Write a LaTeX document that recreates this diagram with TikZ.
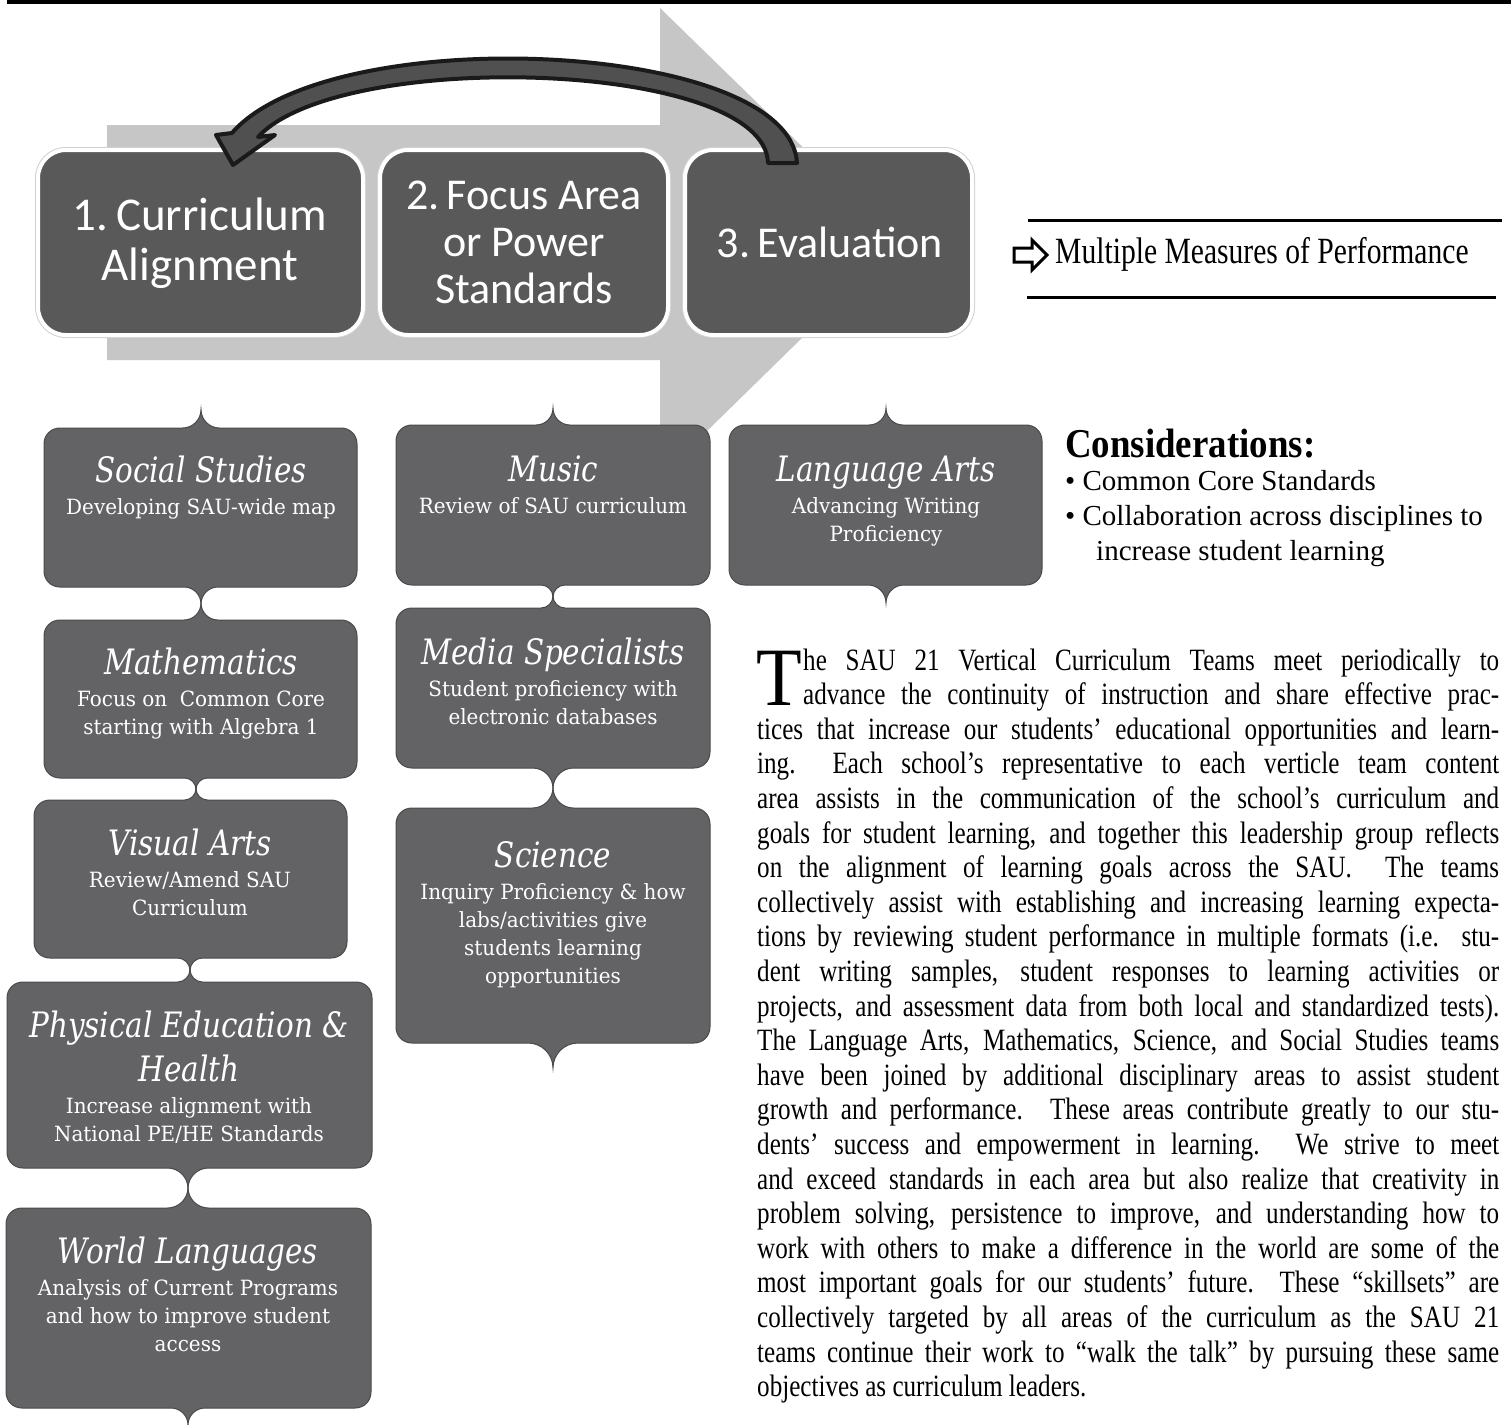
\documentclass[tikz,border=0pt]{standalone}
\usepackage{fontspec}
\setmainfont{Liberation Serif}
\newfontfamily\calib{Carlito}
\newfontfamily\camT[FakeStretch=0.84]{DejaVu Serif}
\newfontfamily\camS[FakeStretch=0.95]{DejaVu Serif}
\newfontfamily\tnrP[FakeStretch=0.81]{Liberation Serif}
\newfontfamily\tnrM[FakeStretch=0.8]{Liberation Serif}
\newfontfamily\tnrC[FakeStretch=0.9]{Liberation Serif}
\newfontfamily\tnrB[FakeStretch=1.0]{Liberation Serif}
\definecolor{arrowgray}{HTML}{C6C6C6}
\definecolor{topboxc}{HTML}{595959}
\definecolor{subboxc}{HTML}{636365}
\definecolor{sublinec}{HTML}{4A4A4C}
\definecolor{curvefill}{HTML}{505050}
\definecolor{curveline}{HTML}{1A1A1A}
\newcommand{\subjtitle}{\camT\itshape\fontsize{35}{44}\selectfont}
\newcommand{\subjsub}{\camS\fontsize{21}{28}\selectfont}
\tikzset{
  topshadow/.style={draw=black!18, line width=6pt, rounded corners=28pt},
  topbox/.style={fill=topboxc, draw=white, line width=4pt, rounded corners=28pt},
  toptext/.style={font=\calib\fontsize{44}{47}\selectfont, text=white, align=center, inner sep=0pt},
  subjshape/.style={fill=subboxc, draw=sublinec, line width=1pt},
  subjtext/.style={anchor=base, inner sep=0pt, text=white},
  plain/.style={anchor=base west, inner sep=0pt, text=black}
}
% x1 y1 x2 y2 topspikeX topspikeH bottomspikeX bottomspikeH
\newcommand{\subjbox}[8]{%
\path[subjshape] (#1+16,#2) -- (#5-#6,#2)
 .. controls (#5-0.448*#6,#2) and (#5,#2-0.448*#6) .. (#5,#2-#6)
 .. controls (#5,#2-0.448*#6) and (#5+0.448*#6,#2) .. (#5+#6,#2)
 -- (#3-16,#2) .. controls (#3-7,#2) and (#3,#2+7) .. (#3,#2+16)
 -- (#3,#4-16) .. controls (#3,#4-7) and (#3-7,#4) .. (#3-16,#4)
 -- (#7+#8,#4) .. controls (#7+0.448*#8,#4) and (#7,#4+0.448*#8) .. (#7,#4+#8)
 .. controls (#7,#4+0.448*#8) and (#7-0.448*#8,#4) .. (#7-#8,#4)
 -- (#1+16,#4) .. controls (#1+7,#4) and (#1,#4-7) .. (#1,#4-16)
 -- (#1,#2+16) .. controls (#1,#2+7) and (#1+7,#2) .. (#1+16,#2) -- cycle;}
\newcommand{\subjtext}[5]{\node[subjtext] (#1) at (#2,#3) {\parbox[t]{380pt}{\centering{\subjtitle #4\par}\vspace{4pt}{\subjsub #5\par}}};}
\begin{document}
\begin{tikzpicture}[x=1pt,y=-1pt]
\useasboundingbox (0,0) rectangle (1511,1424);
\fill[white] (0,0) rectangle (1511,1424);
\fill[black] (7,0) rectangle (1511,3.5);
% big background arrow
\fill[arrowgray] (107,125) -- (660,125) -- (660,8) -- (900,242) -- (660,477) -- (660,360) -- (107,360) -- cycle;
% top boxes
\draw[topshadow] (38,150) rectangle (363,335);
\draw[topbox] (38,150) rectangle (363,335);
\draw[topshadow] (380,150) rectangle (668,335);
\draw[topbox] (380,150) rectangle (668,335);
\draw[topshadow] (685,150) rectangle (972,335);
\draw[topbox] (685,150) rectangle (972,335);
\node[toptext, font=\calib\fontsize{47}{50}\selectfont] (step1) at (200,243) {1.\,Curriculum\\Alignment};
\node[toptext] (step2) at (524,242) {2.\,Focus Area\\or Power\\Standards};
\node[toptext] (step3) at (830,242) {3.\,Evaluation};
% curved return arrow
\fill[curvefill, draw=curveline, line width=4pt, line join=round]
  (797,163) .. controls (790,40) and (330,20) .. (232,133)
  -- (216,135) -- (233,165) -- (275,135) -- (258,137)
  .. controls (340,48) and (765,60) .. (768,163) -- cycle;
% multiple measures
\draw[line width=3pt] (1028,220) -- (1502,220);
\draw[line width=3pt] (1027,297) -- (1496,297);
\draw[line width=3pt, fill=white, line join=miter] (1014,248) -- (1032,248) -- (1032,240) -- (1047,255) -- (1032,270) -- (1032,262) -- (1014,262) -- cycle;
\node[plain, font=\tnrM\fontsize{37}{40}\selectfont] (mmp) at (1055,263) {Multiple Measures of Performance};
% considerations
\node[plain, font=\tnrC\bfseries\fontsize{41}{44}\selectfont] (cons) at (1065,457) {Considerations:};
\node[plain, font=\tnrB\fontsize{29}{35}\selectfont] (c1) at (1065,490) {• Common Core Standards};
\node[plain, font=\tnrB\fontsize{29}{35}\selectfont] (c2) at (1065,525) {• Collaboration across disciplines to};
\node[plain, font=\tnrB\fontsize{29}{35}\selectfont] (c3) at (1096,560) {increase student learning};
% subject boxes
\subjbox{44}{428}{357}{587}{201}{18.5}{201}{17}
\subjbox{44}{620}{357}{778}{201}{17}{196}{11.5}
\subjbox{34}{800}{347}{958}{196}{11.5}{190}{12.5}
\subjbox{7}{982}{372}{1168}{190}{12.5}{188}{20.5}
\subjbox{6}{1208}{371}{1408}{188}{20.5}{188}{17}
\subjbox{396}{425}{710}{585}{553}{17}{553}{12}
\subjbox{396}{608}{710}{768}{553}{12}{553}{20.5}
\subjbox{396}{808}{710}{1043}{553}{20.5}{553}{25}
\subjbox{729}{425}{1042}{585}{886}{17}{886}{18}
\subjtext{ss}{201}{482}{Social Studies}{Developing SAU-wide map}
\subjtext{math}{201}{674}{Mathematics}{Focus on~ Common Core\\starting with Algebra 1}
\subjtext{va}{190}{855}{Visual Arts}{Review/Amend SAU\\Curriculum}
\subjtext{pe}{189}{1037}{Physical Education \&\\Health}{Increase alignment with\\National PE/HE Standards}
\subjtext{wl}{188}{1263}{World Languages}{Analysis of Current Programs\\and how to improve student\\access}
\subjtext{music}{553}{481}{Music}{Review of SAU curriculum}
\subjtext{media}{553}{664}{Media Specialists}{Student proficiency with\\electronic databases}
\subjtext{sci}{553}{867}{Science}{Inquiry Proficiency \& how\\labs/activities give\\students learning\\opportunities}
\subjtext{la}{886}{481}{Language Arts}{Advancing Writing\\Proficiency}
% paragraph
\node[plain, font=\tnrC\fontsize{83}{83}\selectfont] (dropT) at (756,705) {T};
\node[plain, font=\tnrP\fontsize{31}{34.6}\selectfont] (para) at (757,670) {\parbox[t]{742pt}{\setlength{\baselineskip}{34.6pt}\setlength{\parindent}{0pt}\setlength{\parskip}{0pt}%
\hspace*{46pt}\makebox[696pt][s]{he SAU 21 Vertical Curriculum Teams meet periodically to}\par
\hspace*{46pt}\makebox[696pt][s]{advance the continuity of instruction and share effective prac-}\par
\makebox[742pt][s]{tices that increase our students’ educational opportunities and learn-}\par
\makebox[742pt][s]{ing.\ \ Each school’s representative to each verticle team content}\par
\makebox[742pt][s]{area assists in the communication of the school’s curriculum and}\par
\makebox[742pt][s]{goals for student learning, and together this leadership group reflects}\par
\makebox[742pt][s]{on the alignment of learning goals across the SAU.\ \ The teams}\par
\makebox[742pt][s]{collectively assist with establishing and increasing learning expecta-}\par
\makebox[742pt][s]{tions by reviewing student performance in multiple formats (i.e. stu-}\par
\makebox[742pt][s]{dent writing samples, student responses to learning activities or}\par
\makebox[742pt][s]{projects, and assessment data from both local and standardized tests).}\par
\makebox[742pt][s]{The Language Arts, Mathematics, Science, and Social Studies teams}\par
\makebox[742pt][s]{have been joined by additional disciplinary areas to assist student}\par
\makebox[742pt][s]{growth and performance. These areas contribute greatly to our stu-}\par
\makebox[742pt][s]{dents’ success and empowerment in learning. We strive to meet}\par
\makebox[742pt][s]{and exceed standards in each area but also realize that creativity in}\par
\makebox[742pt][s]{problem solving, persistence to improve, and understanding how to}\par
\makebox[742pt][s]{work with others to make a difference in the world are some of the}\par
\makebox[742pt][s]{most important goals for our students’ future.\ \ These “skillsets” are}\par
\makebox[742pt][s]{collectively targeted by all areas of the curriculum as the SAU 21}\par
\makebox[742pt][s]{teams continue their work to “walk the talk” by pursuing these same}\par
objectives as curriculum leaders.\par}};
\end{tikzpicture}
\end{document}
